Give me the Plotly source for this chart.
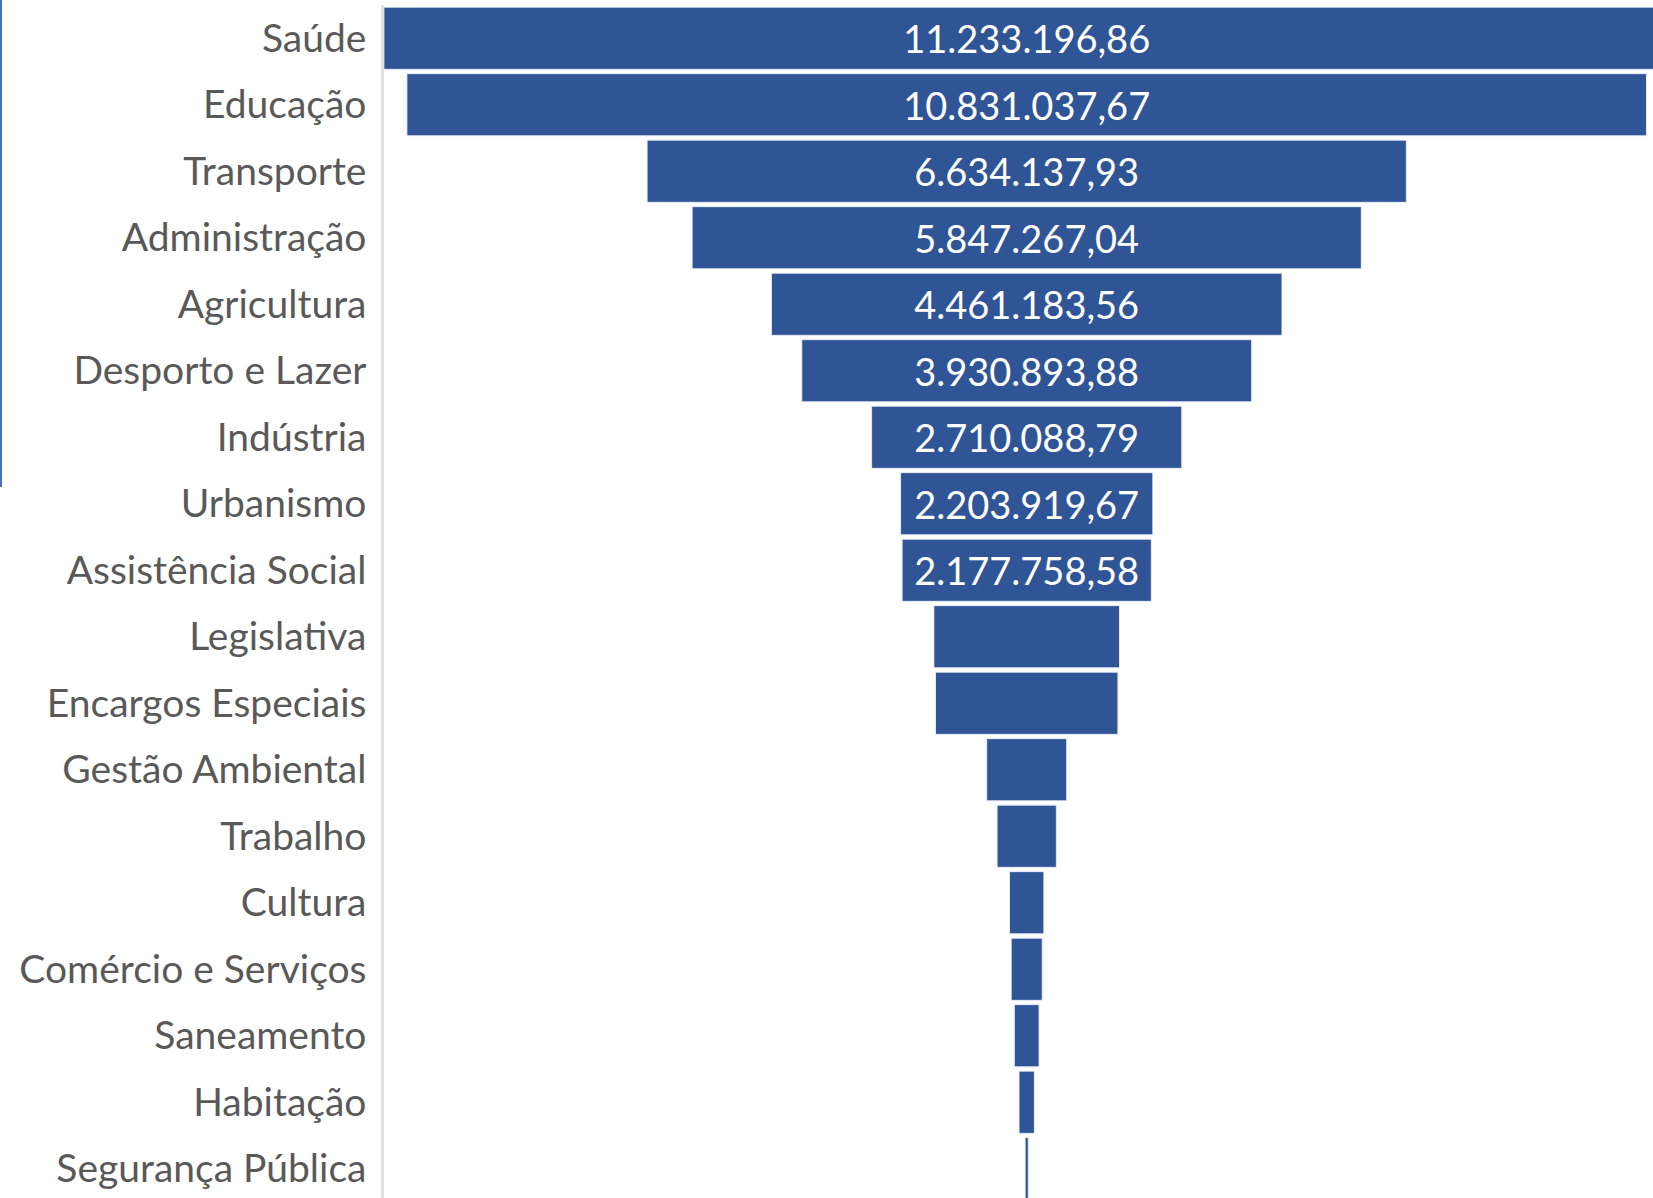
import plotly.graph_objects as go

categories = [
    "Saúde", "Educação", "Transporte", "Administração", "Agricultura",
    "Desporto e Lazer", "Indústria", "Urbanismo", "Assistência Social",
    "Legislativa", "Encargos Especiais", "Gestão Ambiental", "Trabalho",
    "Cultura", "Comércio e Serviços", "Saneamento", "Habitação",
    "Segurança Pública",
]
values = [
    11233196.86, 10831037.67, 6634137.93, 5847267.04, 4461183.56,
    3930893.88, 2710088.79, 2203919.67, 2177758.58,
    1622000, 1594000, 699000, 518000,
    300000, 271000, 216000, 134000,
    28000,
]
labeled_count = 9


def fmt_br(v):
    s = f"{v:,.2f}"
    return s.replace(",", "X").replace(".", ",").replace("X", ".")


labels = [fmt_br(v) if i < labeled_count else "" for i, v in enumerate(values)]

BAR = "#2F5597"

fig = go.Figure(
    go.Funnel(
        y=categories,
        x=values,
        text=labels,
        textinfo="text",
        textposition="inside",
        insidetextanchor="middle",
        constraintext="none",
        textfont=dict(family="Lato", size=38, color="white"),
        marker=dict(color=BAR, line=dict(color="rgba(235,240,250,0.9)", width=1)),
        connector=dict(visible=False),
        hoverinfo="skip",
    )
)

fig.update_layout(
    width=1653,
    height=1198,
    margin=dict(l=384, r=0, t=5, b=0, autoexpand=False),
    paper_bgcolor="white",
    plot_bgcolor="white",
    funnelgap=0.065,
    showlegend=False,
    xaxis=dict(visible=False, range=[-5615900, 5472600], fixedrange=True),
    yaxis=dict(
        range=[17.44, -0.5],
        autorange=False,
        showline=True,
        linecolor="#e0e0e0",
        linewidth=2.5,
        showgrid=False,
        ticks="",
        ticklabelstandoff=7,
        tickfont=dict(family="Lato", size=39, color="#595959"),
    ),
    shapes=[
        dict(
            type="line",
            xref="paper",
            yref="paper",
            x0=-384 / 1269 + 1 / 1269,
            x1=-384 / 1269 + 1 / 1269,
            y0=1 - (487 - 5) / 1193,
            y1=1 + 5 / 1193,
            line=dict(color="#4472C4", width=2),
        )
    ],
)

fig.write_html(
    "out.html",
    config={"displayModeBar": False},
    post_script="document.body.style.margin='0';document.body.style.padding='0';",
)
